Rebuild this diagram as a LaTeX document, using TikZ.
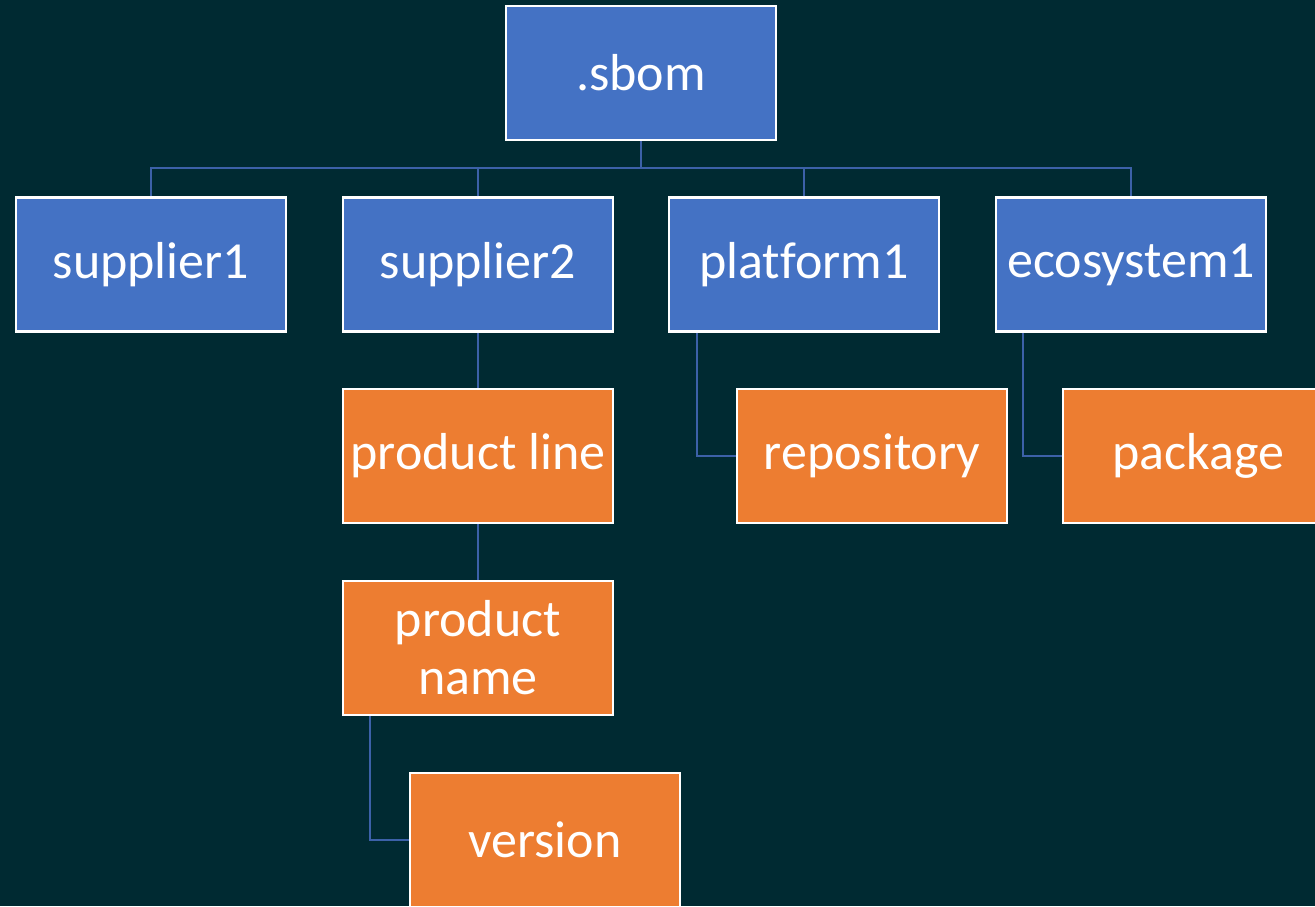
\documentclass[tikz,border=0pt]{standalone}
\usepackage{fontspec}
\setmainfont[Ligatures=NoCommon]{Carlito}
\definecolor{bgc}{HTML}{002A32}
\definecolor{bluebox}{HTML}{4472C4}
\definecolor{orangebox}{HTML}{ED7D31}
\definecolor{conncol}{HTML}{3C61A8}
\begin{document}
\begin{tikzpicture}[x=1pt,y=-1pt,
  box/.style={draw=white,line width=2.5pt,minimum width=270pt,minimum height=134pt,inner sep=0pt,text=white,font=\fontsize{52}{58}\selectfont,align=center},
  bbox/.style={box,fill=bluebox},
  obox/.style={box,fill=orangebox},
  conn/.style={draw=conncol,line width=2.5pt}]
\clip (0,0) rectangle (1315,906);
\fill[bgc] (0,0) rectangle (1315,906);
\node[bbox] (sbom) at (641,73) {.sbom};
\node[bbox] (s1) at (151,264.5) {supplier1};
\node[bbox] (s2) at (478,264.5) {supplier2};
\node[bbox] (p1) at (804,264.5) {platform1};
\node[bbox] (eco) at (1131,264.5) {ecosystem1};
\node[obox] (pl) at (478,456) {product line};
\node[obox] (pn) at (478,648) {product\\name};
\node[obox] (ver) at (545,840) {version};
\node[obox] (rep) at (872,456) {repository};
\node[obox] (pkg) at (1198,456) {package};
\coordinate (bus) at (0,168);
\draw[conn] (sbom.south) -- (sbom.south |- bus);
\draw[conn] (s1.north) |- (bus -| eco.north) -- (eco.north);
\draw[conn] (s2.north) -- (s2.north |- bus);
\draw[conn] (p1.north) -- (p1.north |- bus);
\draw[conn] (s2.south) -- (pl.north);
\draw[conn] (pl.south) -- (pn.north);
\draw[conn] ([xshift=-108pt]pn.south) |- (ver.west);
\draw[conn] ([xshift=-107pt]p1.south) |- (rep.west);
\draw[conn] ([xshift=-108pt]eco.south) |- (pkg.west);
\end{tikzpicture}
\end{document}
